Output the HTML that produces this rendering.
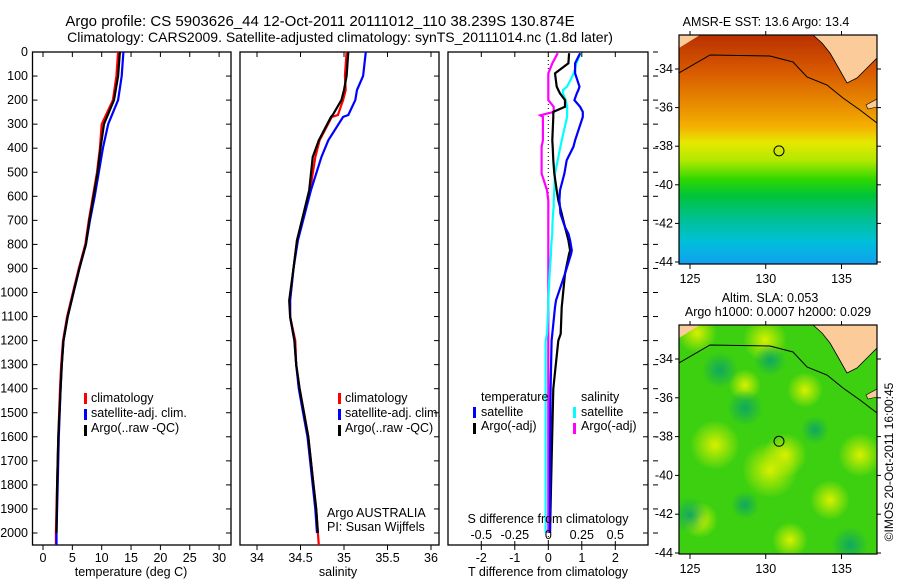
<!DOCTYPE html>
<html><head><meta charset="utf-8">
<style>
html,body{margin:0;padding:0;background:#fff;}
svg{display:block;font-family:"Liberation Sans",sans-serif;}
text{fill:#000;}
</style></head>
<body>
<svg id="fig" width="900" height="580" viewBox="0 0 900 580" xmlns="http://www.w3.org/2000/svg">
<defs>
<linearGradient id="sstGrad" x1="0" y1="0" x2="0" y2="1">
<stop offset="0" stop-color="#b83000"/>
<stop offset="0.16" stop-color="#d85a00"/>
<stop offset="0.3" stop-color="#e88a00"/>
<stop offset="0.4" stop-color="#f4b000"/>
<stop offset="0.47" stop-color="#e6e800"/>
<stop offset="0.55" stop-color="#b0e800"/>
<stop offset="0.63" stop-color="#30d800"/>
<stop offset="0.7" stop-color="#00c438"/>
<stop offset="0.8" stop-color="#00c090"/>
<stop offset="0.9" stop-color="#00c0d8"/>
<stop offset="1" stop-color="#10a0f0"/>
</linearGradient>
<radialGradient id="yb"><stop offset="0" stop-color="#d8f000"/><stop offset="1" stop-color="#d8f000" stop-opacity="0"/></radialGradient>
<radialGradient id="db"><stop offset="0" stop-color="#10a860"/><stop offset="1" stop-color="#10a860" stop-opacity="0"/></radialGradient>
<clipPath id="mapClip1"><rect x="679" y="35" width="198" height="229"/></clipPath>
<clipPath id="mapClip2"><rect x="679" y="325" width="198" height="229"/></clipPath>
</defs>
<text x="320" y="26" font-size="15" text-anchor="middle">Argo profile: CS 5903626_44 12-Oct-2011 20111012_110 38.239S 130.874E</text>
<text x="340" y="42" font-size="14" text-anchor="middle">Climatology: CARS2009. Satellite-adjusted climatology: synTS_20111014.nc (1.8d later)</text>
<g id="panels"></g>
<g id="maps"></g>
<text transform="translate(893,462) rotate(-90)" font-size="12" text-anchor="middle">©IMOS 20-Oct-2011 16:00:45</text>
</svg>
<script>
// ---- data ----
var tempDepth = [0,100,200,300,400,500,600,700,800,900,1000,1100,1200,1300,1400,1600,1800,2000,2050];
var tempClim  = [12.8,12.5,11.9,10.0,9.7,9.2,8.5,7.8,7.2,6.1,5.1,4.1,3.4,3.1,2.9,2.6,2.4,2.2,2.2];
var tempSat   = [13.7,13.4,12.8,11.1,10.2,9.5,8.8,8.0,7.3,6.2,5.2,4.2,3.5,3.2,3.0,2.7,2.5,2.3,2.3];
var tempArgo  = [13.1,12.8,12.1,10.4,9.8,9.3,8.6,7.9,7.3,6.2,5.2,4.2,3.5,3.2,3.0,2.6,2.4,2.3];
var salDepth  = [0,100,158,200,262,270,367,437,575,783,900,1033,1100,1200,1300,1400,1500,1600,1700,1800,1900,2000,2050];
var salClim   = [35.03,35.01,35.02,34.99,34.93,34.86,34.72,34.67,34.61,34.46,34.42,34.38,34.38,34.44,34.45,34.49,34.54,34.59,34.62,34.65,34.68,34.70,34.71];
var salSat    = [35.25,35.22,35.15,35.13,35.05,34.99,34.82,34.74,34.62,34.47,34.42,34.38,34.38,34.43,34.45,34.48,34.53,34.58,34.61,34.64,34.67,34.69];
var salArgo   = [35.05,35.03,35.0,34.97,34.87,34.85,34.71,34.64,34.60,34.46,34.42,34.37,34.38,34.43,34.45,34.49,34.54,34.59,34.62,34.65,34.68,34.70];
var diffDepth = [5,47,89,144,158,172,200,228,249,263,270,367,394,450,505,575,617,644,672,728,755,783,825,839,922,1033,1061,1172,1200,1400,1700,2000];
var dTsat  = [0.95,0.8,0.8,0.93,0.9,0.85,0.78,0.95,1.03,1.03,1.03,0.8,0.75,0.55,0.48,0.35,0.33,0.35,0.36,0.5,0.6,0.65,0.7,0.68,0.5,0.23,0.2,0.12,0.1,0.07,0.05,0.05];
var dTargo = [0.62,0.6,0.2,0.25,0.3,0.35,0.5,0.5,0.15,0.15,0.15,0.12,0.13,0.15,0.18,0.25,0.3,0.35,0.4,0.5,0.55,0.6,0.65,0.62,0.5,0.42,0.4,0.37,0.3,0.15,0.1,0.05];
var dSsat  = [0.24,0.21,0.19,0.14,0.11,0.11,0.13,0.14,0.14,0.14,0.14,0.1,0.09,0.07,0.05,0.045,0.04,0.04,0.035,0.03,0.03,0.025,0.02,0.02,0.01,0.0,0.0,-0.01,-0.02,-0.02,-0.02,-0.02];
var dSargo = [0.07,0.03,0.0,0.0,0.0,0.0,0.0,0.04,0.04,-0.06,-0.04,-0.04,-0.05,-0.05,-0.05,-0.01,0.0,0.0,0.0,0.0,0.0,0.0,0.0,0.0,0.0,0.0,0.0,0.0,0.0,0.0,0.0,0.0];
var depthTicks = [0,100,200,300,400,500,600,700,800,900,1000,1100,1200,1300,1400,1500,1600,1700,1800,1900,2000];
var tempTicks = [0,5,10,15,20,25,30];
var salTicks = ["34","34.5","35","35.5","36"];
var dTTicks = [-2,-1,0,1,2];
var dSTicks = ["-0.5","-0.25","0","0.25","0.5"];
var lonTicks = [125,130,135];
var latTicks = [-34,-36,-38,-40,-42,-44];

var NS="http://www.w3.org/2000/svg";
function mk(tag,attrs,parent){var e=document.createElementNS(NS,tag);for(var k in attrs)e.setAttribute(k,attrs[k]);parent.appendChild(e);return e;}
var P=document.getElementById('panels');
var PT=52, PB=545;
function yD(d){return PT + d*0.2405;}
function xT(v){return 43 + v*5.87;}
function xS(v){return 257 + (v-34)*87;}
function xDT(v){return 548.3 + v*33.5;}

function frameBox(x0,x1,name){
  var r=mk('rect',{x:x0,y:PT,width:x1-x0,height:PB-PT,fill:'none',stroke:'#000','stroke-width':1.3},P);
  
  
  depthTicks.forEach(function(d){
    var t=mk('line',{x1:x1,x2:x1-5,y1:yD(d),y2:yD(d),stroke:'#000'},P);
    
    
  });
}
function xticks(vals,labels,fx,name){
  vals.forEach(function(v,i){
    var x=fx(v);
    var a=mk('line',{x1:x,x2:x,y1:PB,y2:PB+5,stroke:'#000'},P);
    
    
    var b=mk('line',{x1:x,x2:x,y1:PT,y2:PT+5,stroke:'#000'},P);
    
    
    var t=mk('text',{x:x,y:PB+17,'font-size':12.5,'text-anchor':'middle'},P);
    t.textContent=labels[i];
    
    
  });
}
function drawLine(xs,ds,fx,color,name,w){
  var pts=[];
  for(var i=0;i<xs.length&&i<ds.length;i++)pts.push(fx(xs[i]).toFixed(1)+','+yD(ds[i]).toFixed(1));
  var p=mk('polyline',{points:pts.join(' '),fill:'none',stroke:color,'stroke-width':w||2.2,'stroke-linejoin':'miter'},P);
  
  
}
function txt(x,y,s,name,size,anchor){
  var t=mk('text',{x:x,y:y,'font-size':size||12.5,'text-anchor':anchor||'start'},P);
  t.textContent=s;
  
  
  return t;
}
function swatch(x,y,color,name){
  var r=mk('rect',{x:x,y:y-10,width:3,height:11,fill:color},P);
  
  
}

// panel 1
frameBox(32.5,231,'temperature-panel');
depthTicks.forEach(function(d){
  var t=mk('line',{x1:32.5,x2:37.5,y1:yD(d),y2:yD(d),stroke:'#000'},P);
  
  
  txt(28,yD(d)+4,String(d),'depth-tick-label',12.5,'end');
});
xticks(tempTicks,tempTicks.map(String),xT,'temperature');
txt(131,576,'temperature (deg C)','temperature-axis-title',12.5,'middle');
drawLine(tempClim,tempDepth,xT,'#f00','temp-climatology-line');
drawLine(tempSat,tempDepth,xT,'#00f','temp-satellite-line');
drawLine(tempArgo,tempDepth,xT,'#000','temp-argo-line');
swatch(84,403,'#f00','legend-swatch-climatology');txt(91,402,'climatology','legend-climatology');
swatch(84,419,'#00f','legend-swatch-satellite');txt(91,417,'satellite-adj. clim.','legend-satellite');
swatch(84,435,'#000','legend-swatch-argo');txt(91,432,'Argo(..raw -QC)','legend-argo');

// panel 2
frameBox(240,439,'salinity-panel');
xticks(salTicks.map(Number),salTicks,xS,'salinity');
txt(338,576,'salinity','salinity-axis-title',12.5,'middle');
drawLine(salClim,salDepth,xS,'#f00','sal-climatology-line');
drawLine(salSat,salDepth,xS,'#00f','sal-satellite-line');
drawLine(salArgo,salDepth,xS,'#000','sal-argo-line');
swatch(338,403,'#f00','legend2-swatch-climatology');txt(345,402,'climatology','legend2-climatology');
swatch(338,419,'#00f','legend2-swatch-satellite');txt(345,417,'satellite-adj. clim.','legend2-satellite');
swatch(338,435,'#000','legend2-swatch-argo');txt(345,432,'Argo(..raw -QC)','legend2-argo');
txt(327,517,'Argo AUSTRALIA','argo-australia-label');
txt(327,531,'PI: Susan Wijffels','pi-label');

// panel 3
frameBox(448,648,'difference-panel');
depthTicks.forEach(function(d){
  var t=mk('line',{x1:653,x2:658,y1:yD(d),y2:yD(d),stroke:'#000'},P);
  
  
});
xticks(dTTicks,dTTicks.map(String),xDT,'t-diff');
txt(548,576,'T difference from climatology','t-diff-axis-title',12.5,'middle');
var zl=mk('line',{x1:xDT(0),x2:xDT(0),y1:PT,y2:PB,stroke:'#000','stroke-dasharray':'1,3'},P);


function xDS(v){return xDT(v*4);}
drawLine(dSargo,diffDepth,xDS,'#f0f','s-diff-argo-line');
drawLine(dSsat,diffDepth,xDS,'#0ff','s-diff-satellite-line');
drawLine(dTargo,diffDepth,xDT,'#000','t-diff-argo-line');
drawLine(dTsat,diffDepth,xDT,'#00f','t-diff-satellite-line');
dSTicks.forEach(function(s){
  var x=xDS(Number(s));
  var a=mk('line',{x1:x,x2:x,y1:545,y2:541,stroke:'#000'},P);
  
  
  txt(x,539,s,'s-diff-tick-label',12.5,'middle');
});
txt(548,523,'S difference from climatology','s-diff-axis-title',12.5,'middle');
txt(481,401,'temperature','legend3-temperature-header');
swatch(473,417,'#00f','legend3-swatch-t-sat');txt(481,416,'satellite','legend3-t-satellite');
swatch(473,433,'#000','legend3-swatch-t-argo');txt(481,430,'Argo(-adj)','legend3-t-argo');
txt(581,401,'salinity','legend3-salinity-header');
swatch(573,417,'#0ff','legend3-swatch-s-sat');txt(581,416,'satellite','legend3-s-satellite');
swatch(573,433,'#f0f','legend3-swatch-s-argo');txt(581,430,'Argo(-adj)','legend3-s-argo');

// ---- maps ----
var M=document.getElementById('maps');
function lonX(l){return 690 + (l-125)*15.15;}
function land(g,oy){
  var l1=mk('polygon',{points:'813,'+oy+' 822,'+(oy+8)+' 830,'+(oy+18)+' 838,'+(oy+32)+' 847,'+(oy+48)+' 857,'+(oy+43)+' 868,'+(oy+32)+' 877,'+(oy+23)+' 877,'+oy,fill:'#fccb9a'},g);
  
  
  var l2=mk('polygon',{points:'679,'+oy+' 700,'+oy+' 679,'+(oy+13),fill:'#fccb9a'},g);
  
  
  var l3=mk('polygon',{points:'866,'+(oy+70)+' 877,'+(oy+64)+' 877,'+(oy+72)+' 868,'+(oy+74),fill:'#fccb9a',stroke:'#000','stroke-width':0.6},g);
  
  
  var c=mk('polyline',{points:'813,'+oy+' 822,'+(oy+8)+' 830,'+(oy+18)+' 838,'+(oy+32)+' 847,'+(oy+48)+' 857,'+(oy+43)+' 868,'+(oy+32)+' 877,'+(oy+23),fill:'none',stroke:'#000','stroke-width':0.8},g);
  
  
  var s=mk('polyline',{points:'679,'+(oy+38)+' 710,'+(oy+20)+' 770,'+(oy+21)+' 793,'+(oy+27)+' 807,'+(oy+42)+' 827,'+(oy+50)+' 843,'+(oy+63)+' 860,'+(oy+75)+' 877,'+(oy+88),fill:'none',stroke:'#000','stroke-width':1},g);
  
  
}
function mapAxes(oy,latStep,name){
  var f=mk('rect',{x:679,y:oy,width:198,height:229,fill:'none',stroke:'#000','stroke-width':1.2},M);
  
  
  lonTicks.forEach(function(l){
    var x=lonX(l);
    var a=mk('line',{x1:x,x2:x,y1:oy+229,y2:oy+234,stroke:'#000'},M);
    
    
    var b=mk('line',{x1:x,x2:x,y1:oy,y2:oy-4,stroke:'#000'},M);
    
    
    var t=mk('text',{x:x,y:oy+248,'font-size':12.5,'text-anchor':'middle'},M);
    t.textContent=String(l);
    
    
  });
  latTicks.forEach(function(la){
    var y=oy+34+(-34-la)*latStep;
    var a=mk('line',{x1:679,x2:675,y1:y,y2:y,stroke:'#000'},M);
    
    
    var b=mk('line',{x1:877,x2:881,y1:y,y2:y,stroke:'#000'},M);
    
    
    var t=mk('text',{x:673,y:y+4,'font-size':12.5,'text-anchor':'end'},M);
    t.textContent=String(la);
    
    
  });
  var c=mk('circle',{cx:779,cy:oy+34+4.24*latStep,r:5,fill:'none',stroke:'#000','stroke-width':1},M);
  
  
}
// SST map
var g1=mk('g',{'clip-path':'url(#mapClip1)'},M);


var bg1=mk('rect',{x:679,y:35,width:198,height:229,fill:'url(#sstGrad)'},g1);


land(g1,35);
mapAxes(35,19.3,'sst-map');
var t1=mk('text',{x:766,y:26,'font-size':12.5,'text-anchor':'middle'},M);
t1.textContent='AMSR-E SST: 13.6 Argo: 13.4';


// SLA map
var g2=mk('g',{'clip-path':'url(#mapClip2)'},M);


var bg2=mk('rect',{x:679,y:325,width:198,height:229,fill:'#3cd010'},g2);


var blobs=[[765,340,'yb',22],[697,333,'yb',20],[770,470,'yb',28],[785,455,'yb',22],[715,445,'yb',25],[805,390,'yb',18],[860,455,'yb',22],[830,500,'yb',20],[700,520,'yb',18],[790,540,'yb',18],[745,385,'yb',16],
 [720,370,'db',18],[770,360,'db',16],[745,408,'db',18],[690,515,'db',18],[850,545,'db',18],[815,430,'db',14],[745,505,'db',14]];
blobs.forEach(function(b){
  var c=mk('circle',{cx:b[0],cy:b[1],r:b[3],fill:'url(#'+b[2]+')'},g2);
  
  
});
land(g2,325);
mapAxes(325,19.4,'sla-map');
var t2=mk('text',{x:770,y:302,'font-size':12.5,'text-anchor':'middle'},M);
t2.textContent='Altim. SLA: 0.053';


var t3=mk('text',{x:778,y:316,'font-size':12.5,'text-anchor':'middle'},M);
t3.textContent='Argo h1000: 0.0007 h2000: 0.029';


</script>
</body></html>
